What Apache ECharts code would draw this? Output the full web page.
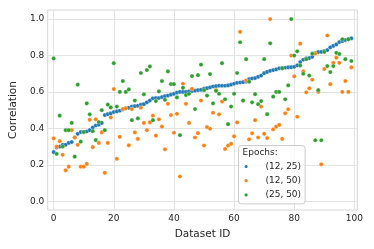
<!DOCTYPE html>
<html><head><meta charset="utf-8">
<script src="https://cdn.jsdelivr.net/npm/echarts@6/dist/echarts.min.js"></script>
<style>html,body{margin:0;padding:0;background:#fff}#c{width:374px;height:249px}</style>
</head><body><div id="c"></div>
<script>
const seriesNames = ['(12, 25)', '(12, 50)', '(25, 50)'];
const colors = ['#1f77b4', '#ff7f0e', '#2ca02c'];
const xTicks = [0, 20, 40, 60, 80, 100];
const yTicks = [0, 0.2, 0.4, 0.6, 0.8, 1.0];

const corr_12_25 = [
0.27,0.295,0.30,0.31,0.31,0.32,0.325,0.35,0.37,0.38,
0.38,0.383,0.39,0.405,0.416,0.42,0.43,0.473,0.478,0.482,
0.49,0.493,0.497,0.504,0.51,0.513,0.519,0.522,0.524,0.53,
0.533,0.543,0.553,0.565,0.567,0.567,0.572,0.577,0.58,0.585,
0.59,0.596,0.60,0.60,0.60,0.603,0.605,0.607,0.61,0.612,
0.618,0.621,0.625,0.63,0.632,0.634,0.634,0.634,0.636,0.64,
0.645,0.65,0.652,0.654,0.656,0.67,0.674,0.676,0.683,0.69,
0.703,0.71,0.716,0.72,0.724,0.73,0.731,0.733,0.735,0.736,
0.738,0.746,0.764,0.777,0.784,0.786,0.793,0.813,0.819,0.82,
0.824,0.83,0.845,0.853,0.861,0.874,0.879,0.885,0.89,0.894];

const corr_12_50 = [
0.345,0.30,0.33,0.255,0.17,0.19,0.39,0.35,0.31,0.19,
0.19,0.205,0.447,0.297,0.45,0.32,0.378,0.156,0.32,0.46,
0.616,0.233,0.354,0.506,0.51,0.307,0.506,0.378,0.342,0.514,
0.43,0.39,0.433,0.47,0.36,0.45,0.41,0.285,0.535,0.473,
0.376,0.48,0.136,0.645,0.535,0.43,0.617,0.35,0.374,0.553,
0.306,0.407,0.398,0.486,0.61,0.477,0.547,0.287,0.305,0.315,
0.357,0.433,0.93,0.553,0.663,0.34,0.373,0.445,0.35,0.52,
0.37,0.347,1.0,0.395,0.41,0.419,0.342,0.483,0.505,0.80,
0.686,0.464,0.865,0.713,0.598,0.62,0.667,0.81,0.60,0.203,
0.726,0.91,0.643,0.76,0.788,0.76,0.60,0.66,0.60,0.735];

const corr_25_50 = [
0.784,0.26,0.47,0.30,0.39,0.39,0.43,0.245,0.64,0.327,
0.38,0.537,0.477,0.385,0.336,0.435,0.50,0.39,0.53,0.515,
0.758,0.52,0.60,0.66,0.60,0.614,0.445,0.553,0.455,0.704,
0.587,0.72,0.74,0.445,0.55,0.603,0.66,0.557,0.713,0.643,
0.643,0.57,0.363,0.623,0.583,0.59,0.687,0.506,0.692,0.75,
0.61,0.58,0.698,0.537,0.606,0.59,0.758,0.56,0.423,0.52,
0.59,0.704,0.873,0.553,0.78,0.656,0.543,0.588,0.533,0.55,
0.78,0.478,0.867,0.574,0.60,0.60,0.73,0.56,0.636,1.0,
0.80,0.823,0.745,0.70,0.78,0.69,0.81,0.335,0.61,0.335,
0.82,0.742,0.709,0.742,0.815,0.808,0.889,0.78,0.889,0.77];

const allSeries = [corr_12_25, corr_12_50, corr_25_50];
const font = 'DejaVu Sans';
const txt = '#262626';

const chart = echarts.init(document.getElementById('c'), null, {renderer: 'canvas'});
chart.setOption({
  animation: false,
  backgroundColor: '#fff',
  title: {
    text: 'Epochs:', left: 242.5, top: 148.5, padding: 0, z: 10,
    textStyle: {fontFamily: font, fontSize: 9, fontWeight: 'normal', color: txt}
  },
  legend: {
    data: seriesNames,
    orient: 'vertical',
    left: 238.5, top: 145.5,
    padding: [15.5, 4, 3.5, 4],
    itemWidth: 18, itemHeight: 5.2, itemGap: 3.2,
    icon: 'circle',
    backgroundColor: 'rgba(255,255,255,0.8)',
    borderColor: '#cccccc', borderWidth: 1, borderRadius: 3,
    formatter: n => '{a|' + n + '}',
    textStyle: {
      fontFamily: font, fontSize: 9, color: txt, lineHeight: 11,
      rich: {a: {width: 41, align: 'right', fontFamily: font, fontSize: 9, color: txt, lineHeight: 11}}
    }
  },
  grid: {left: 44.3, top: 10, width: 313, height: 200, show: true, borderColor: '#d6d6d6', borderWidth: 1, containLabel: false},
  xAxis: {
    type: 'value', min: -1.98, max: 100.98,
    name: 'Dataset ID', nameLocation: 'middle', nameGap: 16,
    nameTextStyle: {fontFamily: font, fontSize: 10.5, color: txt},
    axisLine: {show: false}, axisTick: {show: false, customValues: xTicks},
    axisLabel: {customValues: xTicks, margin: 4.5, fontFamily: font, fontSize: 9, color: txt},
    splitLine: {show: true, lineStyle: {color: '#e3e3e3', width: 1}}
  },
  yAxis: {
    type: 'value', min: -0.048, max: 1.05,
    name: 'Correlation', nameLocation: 'middle', nameGap: 26,
    nameTextStyle: {fontFamily: font, fontSize: 10.5, color: txt},
    axisLine: {show: false}, axisTick: {show: false, customValues: yTicks},
    axisLabel: {customValues: yTicks, margin: 3.5, fontFamily: font, fontSize: 9, color: txt,
      formatter: v => Number(v).toFixed(1)},
    splitLine: {show: true, lineStyle: {color: '#e3e3e3', width: 1}}
  },
  series: allSeries.map((vals, k) => ({
    name: seriesNames[k],
    type: 'scatter',
    symbol: 'circle',
    symbolSize: 4.2,
    itemStyle: {color: colors[k], opacity: 1, borderColor: '#ffffff', borderWidth: 0.3},
    data: vals.map((v, i) => [i, v]),
    z: 2 + k
  }))
});
</script></body></html>
